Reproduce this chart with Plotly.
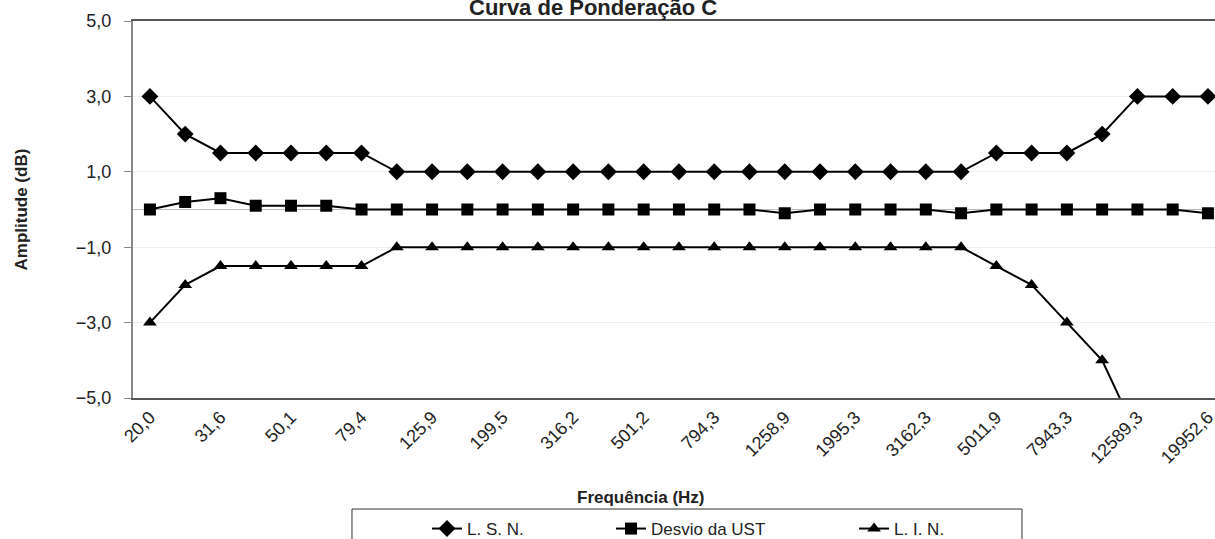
import plotly.graph_objects as go

freqs = ["20,0", "25,1", "31,6", "39,8", "50,1", "63,1", "79,4", "100,0", "125,9", "158,5",
         "199,5", "251,2", "316,2", "398,1", "501,2", "631,0", "794,3", "1000,0", "1258,9", "1584,9",
         "1995,3", "2511,9", "3162,3", "3981,1", "5011,9", "6309,6", "7943,3", "10000,0", "12589,3",
         "15848,9", "19952,6"]
lsn = [3, 2, 1.5, 1.5, 1.5, 1.5, 1.5, 1, 1, 1, 1, 1, 1, 1, 1, 1, 1, 1, 1, 1, 1, 1, 1, 1,
       1.5, 1.5, 1.5, 2, 3, 3, 3]
desvio = [0.0, 0.2, 0.3, 0.1, 0.1, 0.1, 0.0, 0.0, 0.0, 0.0, 0.0, 0.0, 0.0, 0.0, 0.0, 0.0, 0.0,
          0.0, -0.1, 0.0, 0.0, 0.0, 0.0, -0.1, 0.0, 0.0, 0.0, 0.0, 0.0, 0.0, -0.1]
lin = [-3, -2, -1.5, -1.5, -1.5, -1.5, -1.5, -1, -1, -1, -1, -1, -1, -1, -1, -1, -1, -1, -1, -1,
       -1, -1, -1, -1, -1.5, -2, -3, -4, -6, None, None]
tick_labels = freqs[::2]

FONT = "Liberation Sans, Arial, sans-serif"

fig = go.Figure()
fig.add_trace(go.Scatter(x=freqs, y=lsn, name="L. S. N.", mode="lines+markers",
                         line=dict(color="black", width=2),
                         marker=dict(symbol="diamond", size=13, color="black"),
                         connectgaps=False, legend="legend"))
fig.add_trace(go.Scatter(x=freqs, y=desvio, name="Desvio da UST", mode="lines+markers",
                         line=dict(color="black", width=2),
                         marker=dict(symbol="square", size=12, color="black"),
                         legend="legend2"))
fig.add_trace(go.Scatter(x=freqs, y=lin, name="L. I. N.", mode="lines+markers",
                         line=dict(color="black", width=2),
                         marker=dict(symbol="triangle-up", size=12, color="black"),
                         connectgaps=False, legend="legend3"))

leg_common = dict(orientation="h", xanchor="left", yanchor="middle", y=-0.3475,
                  bgcolor="rgba(0,0,0,0)", borderwidth=0,
                  font=dict(family=FONT, size=17, color="#222"))

fig.update_layout(
    width=1215, height=539,
    margin=dict(l=133, r=0, t=21, b=141, autoexpand=False),
    paper_bgcolor="white", plot_bgcolor="white",
    separators=",.",
    font=dict(family=FONT, size=14, color="#222"),
    showlegend=True,
    legend=dict(x=0.2717, **leg_common),
    legend2=dict(x=0.4418, **leg_common),
    legend3=dict(x=0.6664, **leg_common),
    shapes=[dict(type="rect", xref="paper", yref="paper", x0=0.2024, x1=0.8216,
                 y0=-0.2945, y1=-0.45, line=dict(color="#333", width=1),
                 fillcolor="rgba(0,0,0,0)", layer="below")],
    xaxis=dict(type="category", range=[-0.48, 30.2], tickmode="array", tickvals=tick_labels,
               ticktext=tick_labels, tickangle=-45, tickfont=dict(size=18, family=FONT),
               showline=True, linecolor="#555", linewidth=1.5, mirror=True,
               showgrid=False, ticks="", zeroline=False, automargin=False),
    yaxis=dict(range=[-5, 5], tickmode="array", tickvals=[-5, -3, -1, 1, 3, 5],
               tickformat=".1f", tickfont=dict(size=18, family=FONT),
               showline=True, linecolor="#888", linewidth=2, ticks="outside", ticklen=7,
               tickcolor="#888", ticklabelstandoff=9,
               showgrid=True, gridcolor="#eeeeee", gridwidth=1,
               zeroline=True, zerolinecolor="#bbbbbb", zerolinewidth=1, automargin=False),
    annotations=[
        dict(text="<b>Curva de Ponderação C</b>", xref="paper", yref="paper",
             x=0.425, y=1.037, xanchor="center", yanchor="middle", showarrow=False,
             font=dict(size=22, family=FONT, color="#222")),
        dict(text="<b>Frequência (Hz)</b>", xref="paper", yref="paper",
             x=0.4695, y=-0.2626, xanchor="center", yanchor="middle", showarrow=False,
             font=dict(size=17, family=FONT, color="#222")),
        dict(text="<b>Amplitude (dB)</b>", xref="paper", yref="paper",
             x=-0.1026, y=0.5, xanchor="center", yanchor="middle", showarrow=False,
             textangle=-90, font=dict(size=17, family=FONT, color="#222")),
    ],
)

# remove the default 8px page margin so the figure fills the window exactly
fig.write_html("out.html", config={"displayModeBar": False},
               post_script="document.body.style.margin='0';document.body.style.overflow='hidden';")
